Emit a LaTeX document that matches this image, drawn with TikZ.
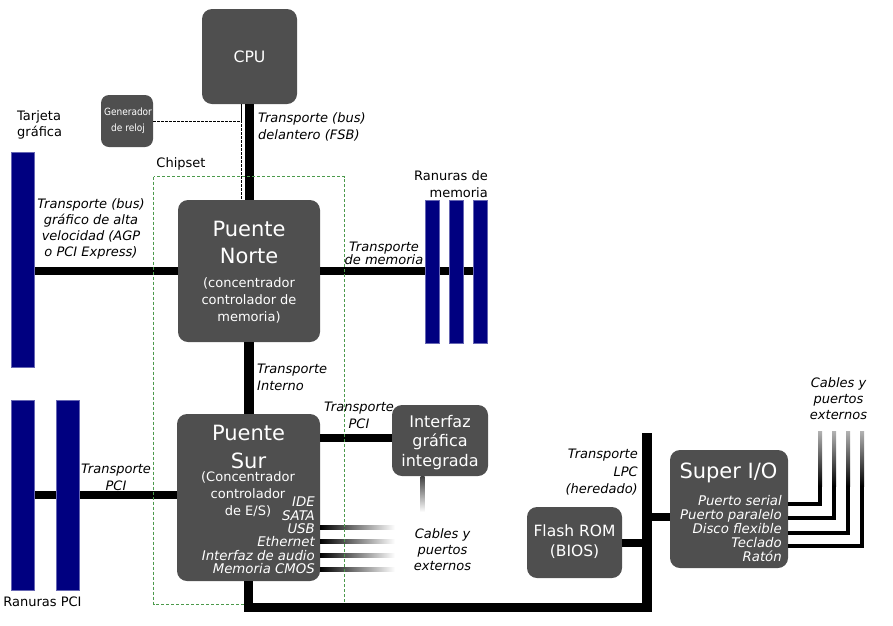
\documentclass[tikz,border=0pt]{standalone}
\usepackage{fontspec}
\setmainfont{DejaVu Sans}
\newfontfamily\condfont{DejaVu Sans Condensed}
\definecolor{boxgray}{HTML}{4F4F4F}
\definecolor{slotblue}{HTML}{000080}
\definecolor{chipgreen}{HTML}{4C9A4C}
\tikzset{
  box/.style={fill=boxgray, rounded corners=10pt, draw=none, text=white, inner sep=0pt},
  slot/.style={fill=slotblue, draw=slotblue!60!white, line width=0.5pt, inner sep=0pt},
  bus/.style={line width=8pt, black, line cap=butt},
  vbus/.style={line width=9.5pt, black, line cap=butt},
  cable/.style={line width=4pt, black, line cap=butt, line join=miter},
  lbl/.style={inner sep=0pt, font=\fontsize{13}{16}\selectfont},
  ilbl/.style={inner sep=0pt, font=\fontsize{13}{17}\selectfont\itshape},
  clockline/.style={dashed, line width=0.8pt, dash pattern=on 2.5pt off 1.5pt},
}
\begin{document}
\begin{tikzpicture}[x=1pt,y=-1pt]
\useasboundingbox (0,0) rectangle (893,625);

% boxes
\node[box, minimum width=95pt, minimum height=95pt] (cpu) at (249.5,56.5) {};
\node[box, rounded corners=8pt, minimum width=52pt, minimum height=52pt] (clk) at (127,121) {};
\node[box, minimum width=142pt, minimum height=142pt] (nb) at (249,271) {};
\node[box, minimum width=143pt, minimum height=167pt] (sb) at (248.5,497.5) {};
\node[box, minimum width=96pt, minimum height=71pt] (igp) at (440,440.5) {};
\node[box, minimum width=95pt, minimum height=71pt] (flash) at (574.5,542.5) {};
\node[box, minimum width=118pt, minimum height=118pt] (sio) at (729,509) {};

% coordinates for LPC bus
\coordinate (lpctop) at (647,433);
\coordinate (lpcbot) at (647,607.5);

% clock lines
\draw[clockline] (clk.east) -| ([xshift=-7.8pt]cpu.south);
\draw[clockline] ([xshift=-7.8pt]cpu.south) -- ([xshift=-7.8pt]cpu.south |- nb.north);

% buses
\draw[vbus] (cpu.south) -- (cpu.south |- nb.north);
\draw[vbus] (nb.south) -- (nb.south |- sb.north);
\draw[bus] (nb.west) -- (nb.west -| 22.5,0);
\draw[bus] (nb.east) -- (nb.east -| 480,0);
\draw[bus] ([yshift=3pt]igp.west) -- ([yshift=3pt]igp.west -| sb.east);
\draw[bus] (sb.west |- 0,495) -- (22.5,495);

% fading cables from south bridge
\foreach \yy in {527,541,555,569}{
  \shade[left color=black, right color=white] (320,\yy-2) rectangle (395,\yy+2);
}
% fading cable below IGP
\shade[top color=black!75, bottom color=white] (420.5,476) rectangle (424.5,512);

% chipset outline
\draw[chipgreen, line width=0.8pt, dash pattern=on 3pt off 2pt] (153.5,176.5) rectangle (344,604);
\node[lbl, anchor=center] (chiplbl) at (181,164) {Chipset};

% bottom bus and LPC
\draw[vbus, line join=miter] (sb.south) |- (lpcbot) -- (lpctop);
\draw[bus] (flash.east) -- (flash.east -| lpctop);
\draw[bus] ([yshift=-7.5pt]sio.west) -- ([yshift=-7.5pt]sio.west -| lpctop);

% super I/O cables
\foreach \yy/\xx in {504/820,518/834,532.5/848,546/862}{
  \draw[cable] (sio.east |- 0,\yy) -- (\xx,\yy) -- (\xx,485);
  \shade[top color=black!30, bottom color=black] (\xx-2,431) rectangle (\xx+2,486);
}

% slots
\node[slot, minimum width=23pt, minimum height=215pt] (gfx) at (22.5,259.5) {};
\node[slot, minimum width=14pt, minimum height=143pt] (m1) at (432,271.5) {};
\node[slot, minimum width=14pt, minimum height=143pt] (m2) at (456,271.5) {};
\node[slot, minimum width=14pt, minimum height=143pt] (m3) at (480,271.5) {};
\node[slot, minimum width=23pt, minimum height=190pt] (pci1) at (22.5,495) {};
\node[slot, minimum width=23pt, minimum height=190pt] (pci2) at (67.5,495) {};

% box texts
\node[text=white, inner sep=0pt, font=\fontsize{15.7}{19}\selectfont] (cput) at (cpu.center) {CPU};
\node[text=white, inner sep=0pt, align=center, font=\fontsize{10}{16}\condfont] (clkt) at (128,121) {Generador\\de reloj};
\node[text=white, inner sep=0pt, align=center, font=\fontsize{21}{27}\selectfont] (nbt) at (249,242.5) {Puente\\Norte};
\node[text=white, inner sep=0pt, align=center, font=\fontsize{13}{17}\selectfont] (nbs) at (249,300) {(concentrador\\controlador de\\memoria)};
\node[text=white, inner sep=0pt, align=center, font=\fontsize{21}{28}\selectfont] (sbt) at (248.5,446.5) {Puente\\Sur};
\node[text=white, inner sep=0pt, align=center, font=\fontsize{13}{17}\selectfont] (sbs) at (248,494.5) {(Concentrador\\controlador\\de E/S)};
\node[text=white, inner sep=0pt, align=right, anchor=east, font=\fontsize{13.3}{13.4}\selectfont\itshape] (sbl) at (315,535.5) {IDE\\SATA\\USB\\Ethernet\\Interfaz de audio\\Memoria CMOS};
\node[text=white, inner sep=0pt, align=center, font=\fontsize{16}{19.5}\selectfont] (igpt) at (440,442.5) {Interfaz\\gráfica\\integrada};
\node[text=white, inner sep=0pt, align=center, font=\fontsize{15.5}{20}\selectfont] (flasht) at (574.5,542) {Flash ROM\\(BIOS)};
\node[text=white, inner sep=0pt, font=\fontsize{21}{25}\selectfont] (siot) at (728.5,473) {Super I/O};
\node[text=white, inner sep=0pt, align=right, anchor=east, font=\fontsize{13.3}{14}\selectfont\itshape] (siol) at (782,529) {Puerto serial\\Puerto paralelo\\Disco flexible\\Teclado\\Ratón};

% labels
\node[lbl, align=left, anchor=west] (tarj) at (17,125) {Tarjeta\\gráfica};
\node[ilbl, align=left, anchor=west] (fsb) at (258,126.5) {Transporte (bus)\\delantero (FSB)};
\node[ilbl, align=center, font=\fontsize{13}{16}\selectfont\itshape] (agpl) at (91,229) {Transporte (bus)\\gráfico de alta\\velocidad (AGP\\o PCI Express)};
\node[ilbl, align=center, font=\fontsize{13}{13}\selectfont\itshape] (meml) at (384,253.5) {Transporte\\de memoria};
\node[lbl, align=right, anchor=east, font=\fontsize{13}{17}\selectfont] (ranm) at (488,184.5) {Ranuras de\\memoria};
\node[ilbl, align=left, anchor=west] (intl) at (257,377.5) {Transporte\\Interno};
\node[ilbl, align=center] (pcil1) at (359,415.5) {Transporte\\PCI};
\node[ilbl, align=center] (pcil2) at (116,477) {Transporte\\PCI};
\node[lbl] (ranp) at (42.5,602) {Ranuras PCI};
\node[ilbl, align=right, anchor=east, font=\fontsize{13}{17.5}\selectfont\itshape] (lpcl) at (638,472.5) {Transporte\\LPC\\(heredado)};
\node[ilbl, align=center, font=\fontsize{13}{16}\selectfont\itshape] (cab1) at (442.5,549.5) {Cables y\\puertos\\externos};
\node[ilbl, align=center, font=\fontsize{13}{16}\selectfont\itshape] (cab2) at (838.5,399) {Cables y\\puertos\\externos};
\end{tikzpicture}
\end{document}
